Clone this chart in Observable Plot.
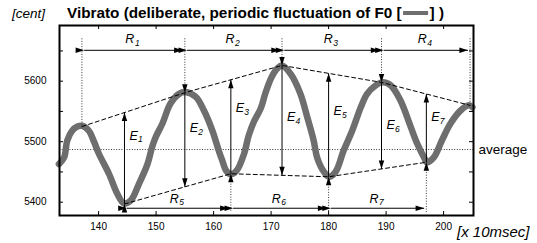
<!DOCTYPE html>
<html><head><meta charset="utf-8">
<script src="https://cdn.jsdelivr.net/npm/d3@7"></script>
<script src="https://cdn.jsdelivr.net/npm/@observablehq/plot@0.6"></script>
<style>
html,body{margin:0;padding:0;background:#fff;}
svg{display:block}
</style></head><body>
<div id="chart"></div>
<script>
// F0 contour (time in 10 ms units, pitch in cent)
const timeX = [133.1,134.0,134.55,135.4,136.3,137.2,138.3,139.2,140.05,141.8,143.25,144.4,145.6,147.0,148.5,149.3,149.9,151.1,152.5,154.0,155.1,156.9,158.3,159.8,160.9,161.5,162.2,163.0,164.0,165.3,166.1,167.0,168.2,169.0,170.0,170.8,171.9,173.4,175.1,176.3,177.4,178.0,179.2,180.05,181.2,182.6,184.1,185.6,186.7,188.2,189.3,190.8,192.5,194.3,195.4,196.6,197.1,198.3,199.7,201.2,203.0,204.4,205.0];
const centY = [5463,5474,5502,5518,5525,5526,5518,5500,5480,5447,5414,5398,5403,5430,5463,5491,5507,5530,5563,5579,5582,5574,5552,5518,5485,5469,5452,5446,5452,5480,5510,5533,5555,5580,5605,5618,5626,5612,5579,5540,5502,5474,5450,5442,5450,5485,5518,5557,5579,5593,5598,5593,5568,5524,5497,5474,5466,5474,5502,5530,5552,5560,5557];
// envelope points
const peakX = [137.1,155.0,171.9,189.2,204.6];
const peakY = [5525,5581,5626,5598,5560];
const troughX = [144.5,163.0,180.0,197.0];
const troughY = [5397,5447,5442,5466];
const averageCent = 5487;
// annotation levels (cent)
const topArrowCent = 5651, bottomArrowCent = 5390;
const dottedTopCent = 5670, dottedBottomCent = 5383;
const rTopLabelCent = 5669, rBottomLabelCent = 5406;
const eLabelCent = [5510,5522,5555,5540,5550,5527,5541];
const rTopNames = ["1","2","3","4"];
const rBottomNames = ["5","6","7"];
const eNames = ["1","2","3","4","5","6","7"];
// ticks
const xTicks = [140,150,160,170,180,190,200];
const yTicks = [5400,5450,5500,5550,5600,5650];
const yTickLabels = [5400,5500,5600];

const FONT = "'Liberation Sans', Arial, Helvetica, sans-serif";
const W = 537, H = 243, mT = 25, mR = 64, mB = 28, mL = 59;
const xDom = [133.2, 205.2], yDom = [5378, 5692];
const pxPerUnit = (W - mL - mR) / (xDom[1] - xDom[0]);
const gap = 2.2 / pxPerUnit;

const curve = timeX.map((t, i) => ({t, c: centY[i]}));
const upper = peakX.map((t, i) => ({t, c: peakY[i]}));
const lower = troughX.map((t, i) => ({t, c: troughY[i]}));
function interp(xs, ys, x) {
  for (let i = 0; i < xs.length - 1; i++) {
    if (x >= xs[i] && x <= xs[i+1]) return ys[i] + (ys[i+1]-ys[i])*(x-xs[i])/(xs[i+1]-xs[i]);
  }
  return x < xs[0] ? ys[0] : ys[ys.length-1];
}
const topR = rTopNames.map((n, i) => ({a: peakX[i], b: peakX[i+1], n}));
const botR = rBottomNames.map((n, i) => ({a: troughX[i], b: troughX[i+1], n}));
const eArr = eNames.map((n, i) => {
  if (i % 2 === 0) {
    const k = i / 2, x = troughX[k];
    return {x, from: troughY[k], to: interp(peakX, peakY, x), n, ly: eLabelCent[i]};
  } else {
    const k = (i + 1) / 2, x = peakX[k];
    return {x, from: peakY[k], to: interp(troughX, troughY, x), n, ly: eLabelCent[i]};
  }
});

const dotted = {stroke: "#333", strokeWidth: 1, strokeDasharray: "1,1.6"};
const arrowOpts = {stroke: "black", strokeWidth: 1, markerStart: "arrow", markerEnd: "arrow"};
const lblMain = {fontStyle: "italic", fontSize: 12.5, fill: "black"};
const lblSub = {fontStyle: "italic", fontSize: 8.5, fill: "black"};

const plot = Plot.plot({
  width: W, height: H,
  marginTop: mT, marginRight: mR, marginBottom: mB, marginLeft: mL,
  x: {domain: xDom, axis: null},
  y: {domain: yDom, axis: null},
  style: {fontFamily: FONT, background: "white", overflow: "visible"},
  marks: [
    Plot.ruleY([averageCent], {y: d => d, ...dotted}),
    Plot.line(curve, {x: "t", y: "c", curve: "catmull-rom", stroke: "#6e6e6e", strokeWidth: 6.5, strokeLinecap: "round", strokeLinejoin: "round"}),
    Plot.line(upper, {x: "t", y: "c", stroke: "black", strokeWidth: 1, strokeDasharray: "4,3"}),
    Plot.line(lower, {x: "t", y: "c", stroke: "black", strokeWidth: 1, strokeDasharray: "4,3"}),
    Plot.ruleX(upper, {x: "t", y1: dottedTopCent, y2: "c", ...dotted}),
    Plot.ruleX(lower, {x: "t", y1: "c", y2: dottedBottomCent, ...dotted}),
    Plot.link(topR, {x1: d => d.a + gap, x2: d => d.b - gap, y1: topArrowCent, y2: topArrowCent, ...arrowOpts}),
    Plot.link(botR, {x1: d => d.a + gap, x2: d => d.b - gap, y1: bottomArrowCent, y2: bottomArrowCent, ...arrowOpts}),
    Plot.link(eArr, {x1: "x", x2: "x", y1: "from", y2: "to", ...arrowOpts}),
    Plot.text(topR, {x: d => (d.a + d.b) / 2, y: rTopLabelCent, text: () => "R", textAnchor: "end", dx: 1, ...lblMain}),
    Plot.text(topR, {x: d => (d.a + d.b) / 2, y: rTopLabelCent, text: "n", textAnchor: "start", dx: 1.5, dy: 4, ...lblSub}),
    Plot.text(botR, {x: d => (d.a + d.b) / 2, y: rBottomLabelCent, text: () => "R", textAnchor: "end", dx: 1, ...lblMain}),
    Plot.text(botR, {x: d => (d.a + d.b) / 2, y: rBottomLabelCent, text: "n", textAnchor: "start", dx: 1.5, dy: 4, ...lblSub}),
    Plot.text(eArr, {x: "x", y: "ly", text: () => "E", textAnchor: "start", dx: 5, ...lblMain}),
    Plot.text(eArr, {x: "x", y: "ly", text: "n", textAnchor: "start", dx: 13.5, dy: 4, ...lblSub}),
    Plot.text([averageCent], {y: d => d, frameAnchor: "right", text: () => "average", textAnchor: "start", dx: 5, fontSize: 13.5, fill: "black"}),
    Plot.tickX(xTicks, {x: d => d, insetTop: H - mT - mB - 4, stroke: "black"}),
    Plot.tickX(xTicks, {x: d => d, insetBottom: H - mT - mB - 4, stroke: "black"}),
    Plot.tickY(yTicks, {y: d => d, insetRight: W - mL - mR - 4, stroke: "black"}),
    Plot.tickY(yTicks, {y: d => d, insetLeft: W - mL - mR - 4, stroke: "black"}),
    Plot.frame({stroke: "black", strokeWidth: 2}),
    Plot.axisX(xTicks, {anchor: "bottom", tickSize: 0, tickPadding: 7, fontSize: 10, tickFormat: d => String(d), label: null}),
    Plot.axisY(yTickLabels, {anchor: "left", tickSize: 0, tickPadding: 13, fontSize: 10, tickFormat: d => String(d), label: null})
  ]
});
document.getElementById("chart").appendChild(plot);

// filled arrow heads
d3.select(plot).selectAll("marker").each(function() {
  const m = d3.select(this);
  const col = m.attr("stroke") || "black";
  m.attr("viewBox", "-10 -5 12 10").attr("markerWidth", 12).attr("markerHeight", 10)
   .attr("fill", col).attr("stroke", "none");
  m.selectAll("path").attr("d", "M-8.5,-2.7L0,0L-8.5,2.7Z");
});

// titles and unit labels
const svg = d3.select(plot);
const g = svg.append("g").attr("font-family", FONT).attr("fill", "black").attr("text-anchor", "start");
g.append("text").attr("x", 12).attr("y", 13).attr("dy", "0.35em").attr("font-style", "italic").attr("font-size", 13.5).text("[cent]");
g.append("text").attr("x", 457).attr("y", 232).attr("dy", "0.35em").attr("font-style", "italic").attr("font-size", 15).text("[x 10msec]");
const TS = 15.3;
const t1 = g.append("text").attr("x", 67).attr("y", 13).attr("dy", "0.35em").attr("font-weight", "bold").attr("font-size", TS)
  .text("Vibrato (deliberate, periodic fluctuation of F0 [");
const w1 = t1.node().getComputedTextLength();
const sx = 67 + w1 + 1.5;
g.append("line").attr("x1", sx).attr("x2", sx + 25).attr("y1", 13).attr("y2", 13).attr("stroke", "#6e6e6e").attr("stroke-width", 4);
g.append("text").attr("x", sx + 26.5).attr("y", 13).attr("dy", "0.35em").attr("font-weight", "bold").attr("font-size", TS).text("] )");
</script>
</body></html>
